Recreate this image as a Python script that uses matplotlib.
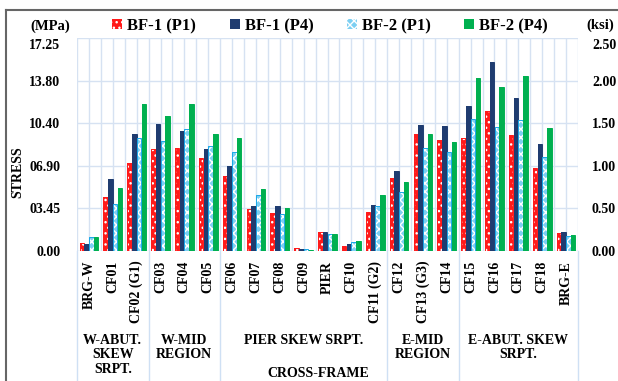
import matplotlib
matplotlib.use('Agg')
from matplotlib import pyplot as plt
from matplotlib.lines import Line2D
import matplotlib.transforms as mtransforms
import numpy as np

plt.rcParams['font.family'] = ['Liberation Serif', 'DejaVu Serif']
plt.rcParams['font.weight'] = 'bold'
plt.rcParams['hatch.linewidth'] = 1.0

# категории (сечения)
cats = ['BRG-W', 'CF01', 'CF02 (G1)', 'CF03', 'CF04', 'CF05', 'CF06', 'CF07', 'CF08', 'CF09',
        'PIER', 'CF10', 'CF11 (G2)', 'CF12', 'CF13 (G3)', 'CF14', 'CF15', 'CF16', 'CF17', 'CF18', 'BRG-E']

# напряжения, МПа
bf1_p1 = [0.61, 4.34, 7.14, 8.23, 8.36, 7.50, 6.09, 3.37, 3.10, 0.22, 1.51, 0.43, 3.16,
          5.88, 9.47, 8.98, 9.12, 11.29, 9.39, 6.74, 1.43]
bf1_p4 = [0.55, 5.85, 9.47, 10.25, 9.68, 8.25, 6.88, 3.66, 3.64, 0.18, 1.56, 0.54, 3.72,
          6.47, 10.20, 10.11, 11.76, 15.27, 12.38, 8.67, 1.51]
bf2_p1 = [1.12, 3.80, 9.12, 8.90, 9.85, 8.50, 8.03, 4.51, 2.97, 0.14, 1.38, 0.70, 3.61,
          4.77, 8.31, 8.03, 10.72, 10.07, 10.58, 7.61, 1.21]
bf2_p4 = [1.12, 5.07, 11.93, 10.95, 11.87, 9.44, 9.17, 4.99, 3.45, 0.08, 1.38, 0.83, 4.53,
          5.61, 9.44, 8.82, 14.03, 13.28, 14.14, 9.99, 1.29]

series = ['BF-1 (P1)', 'BF-1 (P4)', 'BF-2 (P1)', 'BF-2 (P4)']

# группы: подпись и число категорий
groups = ['W-ABUT.\nSKEW\nSRPT.', 'W-MID\nREGION', 'PIER SKEW SRPT.', 'E-MID\nREGION', 'E-ABUT. SKEW\nSRPT.']
group_sizes = [3, 3, 7, 3, 5]

mpa_ticks = [0, 3.447, 6.895, 10.342, 13.790, 17.237]
mpa_labels = ['0.00', '03.45', '06.90', '10.40', '13.80', '17.25']
ksi_ticks = [0, 0.5, 1.0, 1.5, 2.0, 2.5]

fig = plt.figure(figsize=(6.18, 3.81), dpi=100)
W, H = 618, 381
ax = fig.add_axes([77 / W, 1 - 251 / H, 501 / W, 213 / H])

x = np.arange(len(cats))
bw = 0.19
offs = [-0.3, -0.1, 0.1, 0.3]
data = [bf1_p1, bf1_p4, bf2_p1, bf2_p4]
faces = ['#FF1A1A', '#1F3C70', '#7CCFF2', '#00B050']
edges = ['#FF1A1A', '#1F3C70', '#1AA8E8', '#00B050']
hatches = ['...', None, 'xxxx', None]

handles = []
for vals, off, fc, ec, h, name in zip(data, offs, faces, edges, hatches, series):
    b = ax.bar(x + off, vals, bw, color=fc, edgecolor='white' if h else fc,
               hatch=h, linewidth=0, label=name, zorder=3)
    ax.bar(x + off, vals, bw, fill=False, edgecolor=ec, linewidth=0.7, zorder=4)
    handles.append(b)

ax.set_xlim(-0.5, len(cats) - 0.5)
ax.set_ylim(0, 17.237)
ax.set_yticks(mpa_ticks)
ax.set_yticklabels(mpa_labels, fontsize=10, fontweight='bold')
ax.set_xticks(x)
ax.set_xticklabels(cats, rotation=90, fontsize=10, fontweight='bold', va='top')
ax.tick_params(axis='both', length=0)
ax.tick_params(axis='x', pad=7)
ax.tick_params(axis='y', pad=12)

gc = '#D6E2F2'
for xv in np.arange(-0.5, len(cats), 0.5):
    ax.axvline(xv, color=gc, lw=1, zorder=0)
for yv in mpa_ticks:
    ax.axhline(yv, color=gc, lw=1, zorder=0)
for s in ax.spines.values():
    s.set_visible(False)

ax2 = ax.twinx()
ax2.set_ylim(0, 2.5)
ax2.set_yticks(ksi_ticks)
ax2.set_yticklabels(['%.2f' % t for t in ksi_ticks], fontsize=10, fontweight='bold')
ax2.tick_params(axis='y', length=0, pad=10)
for s in ax2.spines.values():
    s.set_visible(False)

# верхние подписи чуть ниже линии сетки
shift = mtransforms.ScaledTranslation(0, -6 / 100, fig.dpi_scale_trans)
for lab in (ax.get_yticklabels()[-1], ax2.get_yticklabels()[-1]):
    lab.set_transform(lab.get_transform() + shift)

# разделители групп и подписи групп
trans = mtransforms.blended_transform_factory(ax.transData, ax.transAxes)
edges_x = np.concatenate([[-0.5], np.cumsum(group_sizes) - 0.5])
for xv in edges_x:
    ax.plot([xv, xv], [0, -0.62], color='#CFE0F4', lw=1, transform=trans, clip_on=False)
for i, g in enumerate(groups):
    cx = (edges_x[i] + edges_x[i + 1]) / 2
    ax.text(cx, -(334 - 251) / 213, g, transform=trans, ha='center', va='top',
            fontsize=10, fontweight='bold', linespacing=1.15)
ax.text(9.6, -(367 - 251) / 213, 'CROSS-FRAME', transform=trans, ha='center', va='top',
        fontsize=10, fontweight='bold')

fig.text(18 / W, 1 - 172 / H, 'STRESS', rotation=90, ha='center', va='center',
         fontsize=10, fontweight='bold')
fig.text(50 / W, 1 - 26 / H, '(MPa)', ha='center', va='center', fontsize=10.5, fontweight='bold')
fig.text(600 / W, 1 - 25 / H, '(ksi)', ha='center', va='center', fontsize=10.5, fontweight='bold')

fig.legend(handles=handles, labels=series, loc='center', ncol=4,
           bbox_to_anchor=(330 / W, 1 - 26 / H), frameon=False,
           prop={'size': 12, 'weight': 'bold'}, handlelength=0.6, handleheight=0.6,
           handletextpad=0.3, columnspacing=2.0)

# рамка
fig.add_artist(Line2D([6 / W, 6 / W], [0, 1 - 10 / H], color='#666666', lw=1.5))
fig.add_artist(Line2D([6 / W, 1], [1 - 10 / H, 1 - 10 / H], color='#666666', lw=1.5))

fig.savefig('out.png', dpi=100)
